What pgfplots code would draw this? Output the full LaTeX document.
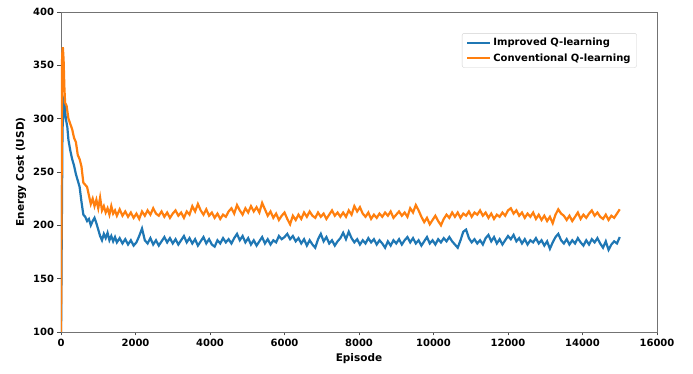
\documentclass[border=0pt]{standalone}
\usepackage{fontspec}
\setmainfont{DejaVu Sans}
\usepackage{pgfplots}
\pgfplotsset{compat=1.18}
\definecolor{tabblue}{HTML}{1F77B4}
\definecolor{taborange}{HTML}{FF7F0E}
\begin{document}
\begin{tikzpicture}
\begin{axis}[
  width=596pt, height=320pt, scale only axis,
  xmin=0, xmax=16000, ymin=100, ymax=400,
  xtick={0,2000,4000,6000,8000,10000,12000,14000,16000},
  ytick={100,150,200,250,300,350,400},
  scaled x ticks=false,
  xticklabel style={/pgf/number format/1000 sep={}},
  /pgf/number format/assume math mode=true,
  tick label style={font=\bfseries\fontsize{10}{12}\selectfont},
  label style={font=\bfseries\fontsize{10.5}{12}\selectfont},
  xlabel={Episode}, ylabel={Energy Cost (USD)},
  tick align=outside, major tick length=3.5pt,
  tick style={black!70, line width=0.6pt},
  axis line style={black!55, line width=0.8pt},
  xtick pos=bottom, ytick pos=left,
  legend cell align=left,
  legend style={at={(0.966,0.934)}, anchor=north east, draw=black!18, rounded corners=2pt,
    font=\bfseries\fontsize{10}{12}\selectfont, inner xsep=4pt, inner ysep=3pt, row sep=2pt},
  legend image code/.code={\draw[#1] (0pt,0pt) -- (23pt,0pt);},
]
\addplot[tabblue, line width=2.2pt] coordinates {
(0,90) (40,290) (80,315) (100,312) (130,300) (170,292) (200,280) (250,270) (300,262) (350,256)
(400,248) (450,242) (500,236) (550,222) (600,210) (650,208) (700,204) (750,206) (800,200) (850,204)
(900,207) (950,202) (1000,196) (1050,190) (1100,186) (1150,192) (1200,188) (1250,193) (1300,186) (1350,190)
(1400,185) (1450,189) (1500,184)
(1575,188) (1650,183) (1725,187) (1800,182) (1875,186) (1950,181) (2025,184) (2100,190) (2175,197) (2250,186)
(2325,183) (2400,188) (2475,182) (2550,186) (2625,181) (2700,185) (2775,189) (2850,184) (2925,188) (3000,183)
(3075,187) (3150,182) (3225,186) (3300,190) (3375,184) (3450,188) (3525,183) (3600,187) (3675,181) (3750,185)
(3825,189) (3900,183) (3975,187) (4050,182) (4125,180) (4200,186) (4275,183) (4350,188) (4425,184) (4500,187)
(4575,183) (4650,188) (4725,192) (4800,186) (4875,190) (4950,184) (5025,188) (5100,182) (5175,186) (5250,181)
(5325,185) (5400,189) (5475,183) (5550,187) (5625,182) (5700,186) (5775,184) (5850,190) (5925,187) (6000,189)
(6075,192) (6150,187) (6225,190) (6300,185) (6375,188) (6450,183) (6525,187) (6600,181) (6675,186) (6750,182)
(6825,179) (6900,187) (6975,192) (7050,185) (7125,189) (7200,183) (7275,186) (7350,181) (7425,185) (7500,188)
(7575,193) (7650,187) (7725,194) (7800,188) (7875,184) (7950,187) (8025,182) (8100,186) (8175,183) (8250,188)
(8325,184) (8400,187) (8475,182) (8550,186) (8625,183) (8700,179) (8775,185) (8850,181) (8925,186) (9000,183)
(9075,187) (9150,182) (9225,186) (9300,189) (9375,184) (9450,188) (9525,183) (9600,186) (9675,181) (9750,185)
(9825,189) (9900,183) (9975,186) (10050,182) (10125,187) (10200,184) (10275,188) (10350,185) (10425,189) (10500,185)
(10575,182) (10650,179) (10725,186) (10800,194) (10875,196) (10950,188) (11025,184) (11100,187) (11175,183) (11250,186)
(11325,182) (11400,188) (11475,191) (11550,185) (11625,189) (11700,183) (11775,187) (11850,182) (11925,186) (12000,190)
(12075,187) (12150,191) (12225,185) (12300,188) (12375,183) (12450,187) (12525,182) (12600,186) (12675,184) (12750,188)
(12825,183) (12900,186) (12975,181) (13050,185) (13125,178) (13200,184) (13275,189) (13350,192) (13425,186) (13500,183)
(13575,187) (13650,182) (13725,186) (13800,183) (13875,188) (13950,184) (14025,181) (14100,186) (14175,182) (14250,187)
(14325,184) (14400,188) (14475,183) (14550,179) (14625,185) (14700,177) (14775,182) (14850,185) (14925,183) (15000,189)
};
\addlegendentry{Improved Q-learning}
\addplot[taborange, line width=2.2pt] coordinates {
(0,90) (30,360) (50,367) (70,355) (90,330) (110,315) (150,312) (200,300) (250,295) (300,290)
(350,282) (400,278) (450,266) (500,262) (550,255) (600,240) (650,238) (700,236) (750,228) (800,220)
(850,225) (900,218) (950,224) (1000,216) (1050,226) (1100,214) (1150,218) (1200,212) (1250,216) (1300,210)
(1350,218) (1400,211) (1450,214) (1500,209)
(1575,215) (1650,209) (1725,213) (1800,208) (1875,212) (1950,207) (2025,211) (2100,206) (2175,213) (2250,209)
(2325,214) (2400,210) (2475,216) (2550,211) (2625,209) (2700,213) (2775,208) (2850,212) (2925,207) (3000,211)
(3075,214) (3150,209) (3225,212) (3300,207) (3375,213) (3450,210) (3525,218) (3600,213) (3675,220) (3750,214)
(3825,210) (3900,215) (3975,209) (4050,212) (4125,207) (4200,211) (4275,206) (4350,210) (4425,208) (4500,213)
(4575,216) (4650,211) (4725,219) (4800,214) (4875,210) (4950,216) (5025,212) (5100,218) (5175,213) (5250,217)
(5325,212) (5400,221) (5475,215) (5550,209) (5625,213) (5700,207) (5775,211) (5850,205) (5925,209) (6000,212)
(6075,206) (6150,201) (6225,209) (6300,205) (6375,210) (6450,206) (6525,212) (6600,208) (6675,213) (6750,209)
(6825,207) (6900,212) (6975,208) (7050,211) (7125,206) (7200,210) (7275,214) (7350,209) (7425,212) (7500,208)
(7575,212) (7650,208) (7725,214) (7800,210) (7875,218) (7950,213) (8025,217) (8100,211) (8175,208) (8250,212)
(8325,206) (8400,210) (8475,207) (8550,211) (8625,208) (8700,212) (8775,209) (8850,213) (8925,207) (9000,210)
(9075,213) (9150,209) (9225,212) (9300,208) (9375,216) (9450,212) (9525,219) (9600,214) (9675,208) (9750,203)
(9825,207) (9900,201) (9975,205) (10050,209) (10125,204) (10200,200) (10275,206) (10350,210) (10425,207) (10500,212)
(10575,208) (10650,212) (10725,207) (10800,211) (10875,209) (10950,213) (11025,208) (11100,212) (11175,210) (11250,214)
(11325,209) (11400,212) (11475,207) (11550,211) (11625,206) (11700,210) (11775,208) (11850,212) (11925,209) (12000,214)
(12075,216) (12150,211) (12225,214) (12300,209) (12375,212) (12450,207) (12525,211) (12600,208) (12675,212) (12750,206)
(12825,210) (12900,205) (12975,209) (13050,204) (13125,208) (13200,202) (13275,210) (13350,215) (13425,211) (13500,209)
(13575,205) (13650,209) (13725,204) (13800,208) (13875,212) (13950,206) (14025,210) (14100,207) (14175,211) (14250,214)
(14325,209) (14400,212) (14475,208) (14550,206) (14625,210) (14700,205) (14775,209) (14850,207) (14925,211) (15000,215)
};
\addlegendentry{Conventional Q-learning}
\end{axis}
\path (current axis.south west) +(-61pt,-42pt);
\path (current axis.north east) +(36pt,12pt);
\end{tikzpicture}
\end{document}
